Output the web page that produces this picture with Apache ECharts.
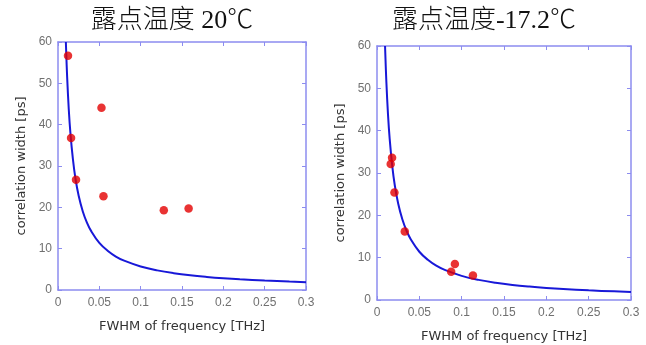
<!DOCTYPE html>
<html>
<head>
<meta charset="utf-8">
<style>
  html, body { margin: 0; padding: 0; background: #fff; }
  #chart { width: 646px; height: 345px; }
</style>
<script src="https://cdn.jsdelivr.net/npm/echarts@6/dist/echarts.min.js"></script>
</head>
<body>
<div id="chart"></div>
<script>
// Panel titles (dew-point temperature)
const titles = ['露点温度 20℃', '露点温度-17.2℃'];
const xAxisName = 'FWHM of frequency [THz]';
const yAxisName = 'correlation width [ps]';

// Measured points: FWHM [THz] vs correlation width [ps]
const dewWarmX = [0.0121, 0.0158, 0.0218, 0.0526, 0.0550, 0.128, 0.158];
const dewWarmY = [56.7, 36.8, 26.7, 44.1, 22.7, 19.3, 19.7];
const dewColdX = [0.0162, 0.0178, 0.0206, 0.0328, 0.0876, 0.0920, 0.1133];
const dewColdY = [32.1, 33.6, 25.4, 16.2, 6.7, 8.5, 5.8];

// Inverse-proportional reference curve
const fitX = [0.0095, 0.011, 0.013, 0.015, 0.018, 0.021, 0.025, 0.03, 0.035, 0.04, 0.05,
              0.06, 0.07, 0.08, 0.1, 0.12, 0.14, 0.16, 0.18, 0.2, 0.22, 0.25, 0.28, 0.3];
const fitY = [60.0, 51.8, 43.8, 38.0, 31.7, 27.1, 22.8, 19.0, 16.3, 14.3, 11.4,
              9.5, 8.1, 7.1, 5.7, 4.75, 4.07, 3.56, 3.17, 2.85, 2.59, 2.28, 2.04, 1.9];

const frameColor = '#8c8cef';
const labelColor = '#707070';
const nameColor = '#333';
const sansFont = '"DejaVu Sans", Verdana, sans-serif';

const pair = (xs, ys) => xs.map((x, i) => [x, ys[i]]);

const chart = echarts.init(document.getElementById('chart'), null, { renderer: 'canvas' });

// Fixed plot boxes; outer bounds are not auto-fitted so the boxes keep their size
const grids = [
  { left: 58, top: 42, width: 248, height: 248, outerBoundsMode: 'none' },
  { left: 377, top: 46, width: 254, height: 254, outerBoundsMode: 'none' }
];
const titleCenters = [172, 484];

const xAxes = [];
const yAxes = [];
const series = [];

grids.forEach((g, i) => {
  const lineStyle = { color: frameColor, width: 1.5 };
  const tick = { show: true, inside: true, length: 4, lineStyle: { color: frameColor, width: 1 } };
  xAxes.push({
    gridIndex: i, type: 'value', position: 'bottom', min: 0, max: 0.3, interval: 0.05,
    axisLine: { show: true, onZero: false, lineStyle },
    axisTick: tick,
    axisLabel: { color: labelColor, fontSize: 12, fontFamily: 'Liberation Sans, Arial', margin: 7 },
    splitLine: { show: false },
    name: xAxisName, nameLocation: 'middle', nameGap: 30,
    nameTextStyle: { color: nameColor, fontSize: 13, fontFamily: sansFont }
  });
  xAxes.push({
    gridIndex: i, type: 'value', position: 'top', min: 0, max: 0.3, interval: 0.05,
    axisLine: { show: true, onZero: false, lineStyle },
    axisTick: tick, axisLabel: { show: false }, splitLine: { show: false }
  });
  yAxes.push({
    gridIndex: i, type: 'value', position: 'left', min: 0, max: 60, interval: 10,
    axisLine: { show: true, onZero: false, lineStyle },
    axisTick: tick,
    axisLabel: { color: labelColor, fontSize: 12, fontFamily: 'Liberation Sans, Arial', margin: 6 },
    splitLine: { show: false },
    name: yAxisName, nameLocation: 'middle', nameGap: 30, nameRotate: 90,
    nameTextStyle: { color: nameColor, fontSize: 13, fontFamily: sansFont }
  });
  yAxes.push({
    gridIndex: i, type: 'value', position: 'right', min: 0, max: 60, interval: 10,
    axisLine: { show: true, onZero: false, lineStyle },
    axisTick: tick, axisLabel: { show: false }, splitLine: { show: false }
  });
  series.push({
    type: 'line', xAxisIndex: i * 2, yAxisIndex: i * 2, data: pair(fitX, fitY),
    smooth: 0.4, showSymbol: false, clip: true, silent: true,
    lineStyle: { color: '#1818d8', width: 2 }, z: 2
  });
  const pts = i === 0 ? pair(dewWarmX, dewWarmY) : pair(dewColdX, dewColdY);
  series.push({
    type: 'scatter', xAxisIndex: i * 2, yAxisIndex: i * 2, data: pts,
    symbol: 'circle', symbolSize: 8.5, itemStyle: { color: '#e30000' }, z: 3
  });
});

chart.setOption({
  animation: false,
  backgroundColor: '#ffffff',
  grid: grids,
  xAxis: xAxes,
  yAxis: yAxes,
  series: series,
  graphic: titles.map((t, i) => ({
    type: 'text', x: titleCenters[i], y: 21,
    style: {
      text: t, fill: '#111', fontSize: 26, fontWeight: 300,
      fontFamily: 'Liberation Serif, "Times New Roman", "Noto Sans CJK SC", serif',
      textAlign: 'center', textVerticalAlign: 'middle'
    }
  }))
});
</script>
</body>
</html>
